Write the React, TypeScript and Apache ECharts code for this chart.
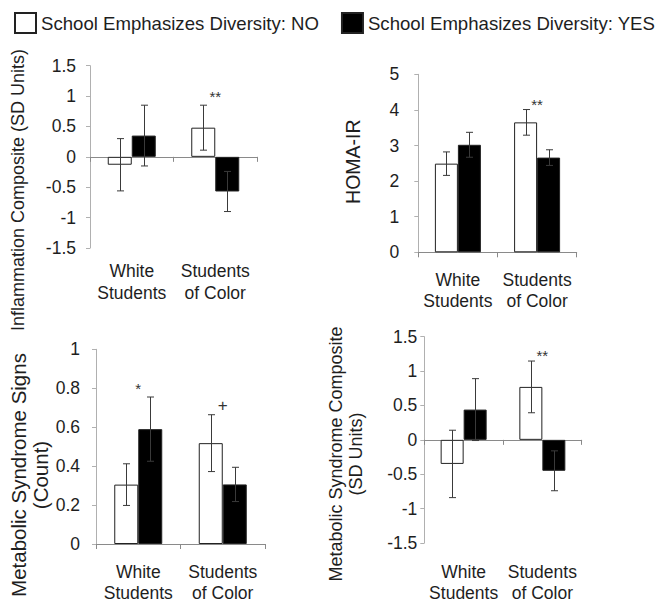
import React, { useEffect, useRef } from "react";
import * as echarts from "echarts";

// ---------- DATA ----------
const categories = ["White\nStudents", "Students\nof Color"];
const seriesNames = ["School Emphasizes Diversity: NO", "School Emphasizes Diversity: YES"];

const inflammationNo = [-0.13, 0.48];
const inflammationNoErr = [0.43, 0.37];
const inflammationYes = [0.35, -0.57];
const inflammationYesErr = [0.5, 0.33];

const homaNo = [2.49, 3.65];
const homaNoErr = [0.33, 0.36];
const homaYes = [3.02, 2.66];
const homaYesErr = [0.35, 0.22];

const metSignsNo = [0.305, 0.518];
const metSignsNoErr = [0.107, 0.146];
const metSignsYes = [0.59, 0.306];
const metSignsYesErr = [0.165, 0.088];

const metCompNo = [-0.35, 0.77];
const metCompNoErr = [0.49, 0.376];
const metCompYes = [0.44, -0.45];
const metCompYesErr = [0.45, 0.29];

const yAxisTitles = [
  "Inflammation Composite (SD Units)",
  "HOMA-IR",
  "Metabolic Syndrome Signs\n(Count)",
  "Metabolic Syndrome Composite\n(SD Units)",
];
const yMins = [-1.5, 0, 0, -1.5];
const yMaxs = [1.5, 5, 1, 1.5];
const yIntervals = [0.5, 1, 0.2, 0.5];

// significance markers: panel, category index, y value, label
const markerPanels = [0, 1, 2, 2, 3];
const markerCats = [1, 1, 0, 1, 1];
const markerYs = [1.0, 4.15, 0.8, 0.71, 1.23];
const markerLabels = ["**", "**", "*", "+", "**"];

// ---------- LAYOUT ----------
const FONT = '"Liberation Sans", Arial, Helvetica, sans-serif';
const TEXT = "#1e1e1e";
const panels = [
  { left: 90, top: 65.7, width: 167, height: 182.3, barW: 24, xMargin: 12, xLH: 22, yMargin: 14, nameX: 18, nameY: 190, nameLH: 21, nameFS: 18 },
  { left: 418.3, top: 74.3, width: 158.4, height: 178, barW: 23, xMargin: 17, xLH: 21, yMargin: 19, nameX: 353.3, nameY: 161.7, nameLH: 21, nameFS: 19.5 },
  { left: 96, top: 349.3, width: 169, height: 199, barW: 24, xMargin: 17, xLH: 21, yMargin: 16, nameX: 29, nameY: 475, nameLH: 22, nameFS: 20.5 },
  { left: 424.3, top: 336.7, width: 157.4, height: 210, barW: 23, xMargin: 18, xLH: 21, yMargin: 7, nameX: 345.5, nameY: 454, nameLH: 20, nameFS: 18 },
];

const panelValues = [
  [inflammationNo, inflammationYes],
  [homaNo, homaYes],
  [metSignsNo, metSignsYes],
  [metCompNo, metCompYes],
];
const panelErrors = [
  [inflammationNoErr, inflammationYesErr],
  [homaNoErr, homaYesErr],
  [metSignsNoErr, metSignsYesErr],
  [metCompNoErr, metCompYesErr],
];

function buildOption() {
  const grid: any[] = [];
  const xAxis: any[] = [];
  const yAxis: any[] = [];
  const series: any[] = [];
  const graphic: any[] = [];

  panels.forEach((p, i) => {
    grid.push({ left: p.left, top: p.top, width: p.width, height: p.height, containLabel: false });
    xAxis.push({
      type: "category",
      gridIndex: i,
      data: categories,
      position: "bottom",
      axisLine: { show: false, onZero: false },
      axisTick: { show: false },
      axisLabel: {
        show: true,
        interval: 0,
        margin: p.xMargin,
        color: TEXT,
        fontSize: 17.5,
        lineHeight: p.xLH,
        fontFamily: FONT,
      },
      splitLine: { show: false },
    });
    xAxis.push({
      type: "category",
      gridIndex: i,
      data: categories,
      position: "top",
      axisLine: { show: true, onZero: true, lineStyle: { color: "#8a8a8a", width: 1 } },
      axisTick: { show: true, inside: true, length: 5, lineStyle: { color: "#8a8a8a" } },
      axisLabel: { show: false },
      splitLine: { show: false },
    });
    yAxis.push({
      type: "value",
      gridIndex: i,
      min: yMins[i],
      max: yMaxs[i],
      interval: yIntervals[i],
      axisLine: { show: true, lineStyle: { color: "#b0b0b0", width: 1 } },
      axisTick: { show: true, length: 4, lineStyle: { color: "#b0b0b0" } },
      axisLabel: { color: TEXT, fontSize: 17.5, fontFamily: FONT, margin: p.yMargin },
      splitLine: { show: false },
    });

    [0, 1].forEach((s) => {
      series.push({
        type: "bar",
        name: seriesNames[s],
        xAxisIndex: i * 2,
        yAxisIndex: i,
        data: panelValues[i][s],
        barWidth: p.barW,
        barGap: "0%",
        itemStyle: {
          color: s === 0 ? "#ffffff" : "#000000",
          borderColor: "#222222",
          borderWidth: 1,
        },
        emphasis: { disabled: true },
      });
    });

    const errData: any[] = [];
    [0, 1].forEach((s) => {
      panelValues[i][s].forEach((v, c) => {
        errData.push([c, v, panelErrors[i][s][c], s]);
      });
    });
    const bw = p.barW;
    series.push({
      type: "custom",
      xAxisIndex: i * 2,
      yAxisIndex: i,
      data: errData,
      z: 5,
      renderItem: (params: any, api: any) => {
        const cat = api.value(0);
        const val = api.value(1);
        const err = api.value(2);
        const side = api.value(3);
        const c = api.coord([cat, val]);
        const top = api.coord([cat, val + err])[1];
        const bot = api.coord([cat, val - err])[1];
        const x = Math.round(c[0] + (side === 0 ? -bw / 2 : bw / 2)) + 0.5;
        const cap = 3.5;
        const st = { stroke: "#3a3a3a", lineWidth: 1 };
        return {
          type: "group",
          children: [
            { type: "line", shape: { x1: x, y1: top, x2: x, y2: bot }, style: st },
            { type: "line", shape: { x1: x - cap, y1: top, x2: x + cap, y2: top }, style: st },
            { type: "line", shape: { x1: x - cap, y1: bot, x2: x + cap, y2: bot }, style: st },
          ],
        };
      },
    });

    const mData: any[] = [];
    markerPanels.forEach((mp, k) => {
      if (mp === i) mData.push([markerCats[k], markerYs[k], k]);
    });
    series.push({
      type: "custom",
      xAxisIndex: i * 2,
      yAxisIndex: i,
      data: mData,
      z: 6,
      renderItem: (params: any, api: any) => {
        const c = api.coord([api.value(0), api.value(1)]);
        const label = markerLabels[api.value(2)];
        return {
          type: "text",
          x: c[0],
          y: c[1],
          style: {
            text: label,
            fill: "#333333",
            font: `${label === "+" ? 17 : 15}px ${FONT}`,
            align: "center",
            verticalAlign: "middle",
            textAlign: "center",
            textVerticalAlign: "middle",
          },
        };
      },
    });

    graphic.push({
      type: "text",
      x: p.nameX,
      y: p.nameY,
      rotation: Math.PI / 2,
      style: {
        text: yAxisTitles[i],
        fill: TEXT,
        font: `${p.nameFS}px ${FONT}`,
        lineHeight: p.nameLH,
        align: "center",
        verticalAlign: "middle",
        textAlign: "center",
        textVerticalAlign: "middle",
      },
    });
  });

  return {
    animation: false,
    backgroundColor: "#ffffff",
    legend: {
      data: seriesNames,
      left: 14,
      top: 12,
      width: 660,
      padding: 0,
      itemWidth: 21,
      itemHeight: 20,
      itemGap: 22,
      icon: "rect",
      selectedMode: false,
      textStyle: { color: TEXT, fontSize: 18.6, fontFamily: FONT },
    },
    grid,
    xAxis,
    yAxis,
    series,
    graphic,
  };
}

export default function App() {
  const ref = useRef<HTMLDivElement>(null);
  useEffect(() => {
    if (!ref.current) return;
    const chart = echarts.init(ref.current, undefined, { renderer: "svg" });
    chart.setOption(buildOption() as any);
    return () => chart.dispose();
  }, []);
  return (
    <div
      ref={ref}
      style={{ position: "absolute", left: 0, top: 0, width: 662, height: 603, background: "#fff" }}
    />
  );
}
